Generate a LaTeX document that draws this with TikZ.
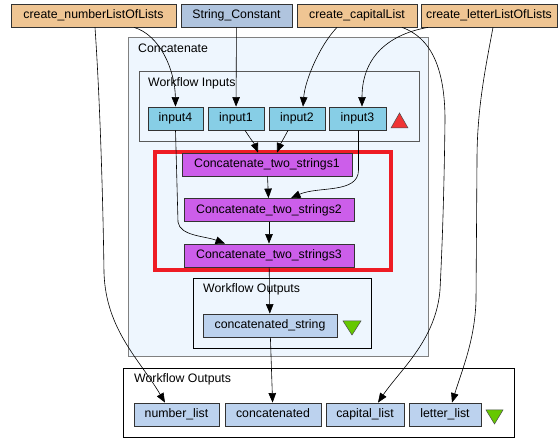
\documentclass[tikz,border=0pt]{standalone}
\usepackage{fontspec}
\setmainfont{Liberation Sans}
\usetikzlibrary{arrows.meta}
\definecolor{beancol}{HTML}{EFC593}
\definecolor{constcol}{HTML}{B0C4DE}
\definecolor{inputcol}{HTML}{87CEE6}
\definecolor{stringcol}{HTML}{CC5EEA}
\definecolor{outputcol}{HTML}{BCD2EE}
\definecolor{clustercol}{HTML}{EEF6FE}
\definecolor{redbox}{HTML}{EE1C24}
\definecolor{redtri}{HTML}{F03434}
\definecolor{greentri}{HTML}{66C800}

\begin{document}
\begin{tikzpicture}[x=1pt,y=-1pt,
  box/.style={draw=black!80,line width=0.8pt,inner sep=0pt,minimum height=23pt,
    font=\fontsize{12.3}{14}\selectfont,text height=8.8pt,text depth=2.6pt},
  bean/.style={box,fill=beancol},
  const/.style={box,fill=constcol},
  wfin/.style={box,fill=inputcol},
  strcat/.style={box,fill=stringcol},
  wfout/.style={box,fill=outputcol},
  label/.style={anchor=base west,inner sep=0pt,font=\fontsize{12.3}{14}\selectfont},
  edge/.style={black,line width=0.6pt,-{Triangle[length=9.5pt,width=7.5pt]}}]
\useasboundingbox (0,0) rectangle (560,438);
% clusters
\draw[fill=clustercol,draw=black!50,line width=1pt] (128,38) rectangle (428,357);
\draw[draw=black!65,line width=1pt] (139,72) rectangle (419,142);
\draw[draw=black,line width=0.8pt] (193,278) rectangle (371,348);
\draw[fill=white,draw=black,line width=0.8pt] (123,368) rectangle (514,437);
\node[label] (lconc) at (138,53) {Concatenate};
\node[label] (lin) at (148,87) {Workflow Inputs};
\node[label] (lout) at (203,293) {Workflow Outputs};
\node[label] (lwout) at (134,383) {Workflow Outputs};
\draw[redbox,line width=4pt] (155,152) rectangle (391,270);
% processors
\node[bean,minimum width=165pt] (numLists) at (93.5,15.5) {create\_numberListOfLists};
\node[const,minimum width=111pt] (strConst) at (236.5,15.5) {String\_Constant};
\node[bean,minimum width=120pt] (capList) at (357,15.5) {create\_capitalList};
\node[bean,minimum width=136pt] (letLists) at (489,15.5) {create\_letterListOfLists};
% workflow inputs
\node[wfin,minimum width=55pt] (in4) at (175.5,118.5) {input4};
\node[wfin,minimum width=56pt] (in1) at (236,118.5) {input1};
\node[wfin,minimum width=56pt] (in2) at (297,118.5) {input2};
\node[wfin,minimum width=57pt] (in3) at (357.5,118.5) {input3};
\draw[fill=redtri,draw=black!70,line width=0.5pt] (391,128) -- (408,128) -- (399.5,113) -- cycle;
% string concatenation
\node[strcat,minimum width=170pt] (cts1) at (267,164.5) {Concatenate\_two\_strings1};
\node[strcat,minimum width=170pt] (cts2) at (269,210) {Concatenate\_two\_strings2};
\node[strcat,minimum width=170pt] (cts3) at (269,255.5) {Concatenate\_two\_strings3};
% outputs
\node[wfout,minimum width=134pt] (concStr) at (270,325.5) {concatenated\_string};
\draw[fill=greentri,draw=black!70,line width=0.5pt] (343,321) -- (361,321) -- (352,335) -- cycle;
\node[wfout,minimum width=85pt] (numList) at (176.5,414.5) {number\_list};
\node[wfout,minimum width=96pt] (concat) at (273,414.5) {concatenated};
\node[wfout,minimum width=78pt] (capitalList) at (365,414.5) {capital\_list};
\node[wfout,minimum width=72pt] (letterList) at (445,414.5) {letter\_list};
\draw[fill=greentri,draw=black!70,line width=0.5pt] (486,410) -- (503,410) -- (494.5,424) -- cycle;
% links
\draw[edge] ([xshift=40.5pt]numLists.south) .. controls (160,35) and (175,70) .. (in4.north);
\draw[edge] ([xshift=1.5pt]numLists.south) .. controls (100,100) and (103,200) .. (104,273)
  .. controls (106,330) and (140,360) .. ([xshift=-11.5pt]numList.north);
\draw[edge] (strConst) -- (in1);
\draw[edge] ([xshift=-20pt]capList.south) .. controls (320,45) and (305,80) .. ([xshift=6pt]in2.north);
\draw[edge] ([xshift=45pt]capList.south) .. controls (432,38) and (445,70) .. (445,120)
  .. controls (444,200) and (442,250) .. (440,290)
  .. controls (436,340) and (400,370) .. ([xshift=13pt]capitalList.north);
\draw[edge] ([xshift=-61pt]letLists.south) .. controls (385,35) and (362,60) .. ([xshift=4.5pt]in3.north);
\draw[edge] ([xshift=4pt]letLists.south) .. controls (485,70) and (477,110) .. (477,160)
  -- (476,300) .. controls (475,340) and (462,370) .. ([xshift=7pt]letterList.north);
\draw[edge] ([xshift=9pt]in1.south) .. controls (250,138) and (255,145) .. ([xshift=-9pt]cts1.north);
\draw[edge] ([xshift=-9pt]in2.south) .. controls (284,138) and (280,145) .. ([xshift=10pt]cts1.north);
\draw[edge] ([xshift=1pt]in3.south) -- (358.5,170) .. controls (358.5,194) and (318,186) .. ([xshift=22pt]cts2.north);
\draw[edge] (in4.south) -- (178,222) .. controls (180,236) and (205,236) .. ([xshift=-44pt]cts3.north);
\draw[edge] (cts1) -- (cts2);
\draw[edge] (cts2) -- (cts3);
\draw[edge] (cts3) -- (concStr);
\draw[edge] (concStr) -- (concat);
\end{tikzpicture}
\end{document}
